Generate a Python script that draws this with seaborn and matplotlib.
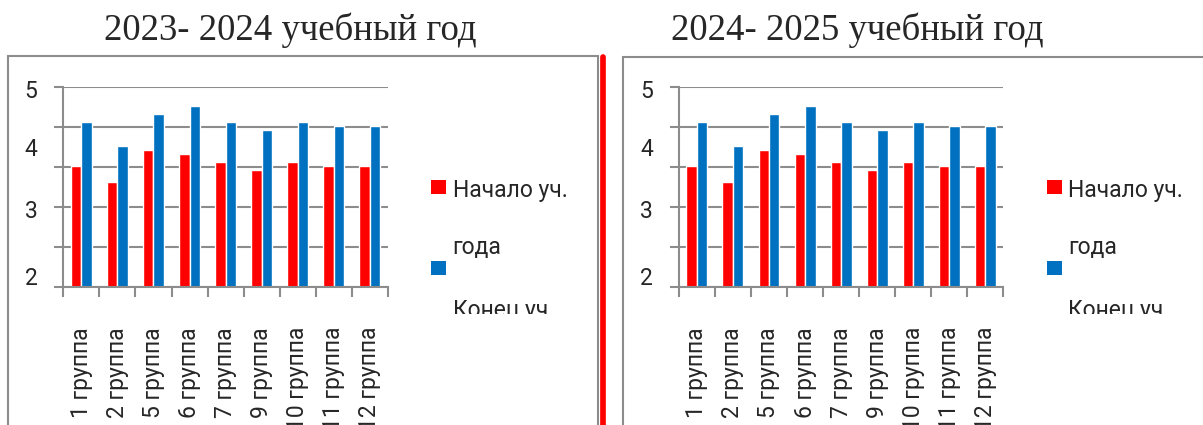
import numpy as np
import pandas as pd
import matplotlib
matplotlib.use('Agg')
import matplotlib.pyplot as plt
from matplotlib.patches import Rectangle
from matplotlib.lines import Line2D
from matplotlib.transforms import Bbox
import seaborn as sns

# data (axis 2..5)
groups = ['1 группа', '2 группа', '5 группа', '6 группа', '7 группа',
          '9 группа', '10 группа', '11 группа', '12 группа']
start_vals = [3.81, 3.57, 4.05, 3.99, 3.87, 3.75, 3.87, 3.81, 3.81]
end_vals = [4.47, 4.11, 4.59, 4.71, 4.47, 4.35, 4.47, 4.41, 4.41]
series = ['Начало уч. года', 'Конец уч. года']
titles = ['2023- 2024 учебный год', '2024- 2025 учебный год']
y_labels = ['5', '4', '3', '2']
y_label_pos = [4.97, 4.10, 3.17, 2.16]

df = pd.DataFrame({
    'group': groups * 2,
    'period': [series[0]] * len(groups) + [series[1]] * len(groups),
    'value': start_vals + end_vals,
})

sns.set_style('white')
plt.rcParams['font.family'] = ['Roboto', 'DejaVu Sans']

W, H = 1203, 425
fig = plt.figure(figsize=(W / 100, H / 100), dpi=100)
pal = {series[0]: '#ff0000', series[1]: '#0070c0'}
grey = '#8c8c8c'
fs = 16.5

def px(x, y):
    return x / W, 1 - y / H

for i, title in enumerate(titles):
    dx = i * 615.5
    x0, y0 = px(63.3 + dx, 286.7)
    ax = fig.add_axes([x0, y0, (388 - 63.3) / W, 200 / H])
    sns.barplot(data=df, x='group', y='value', hue='period', palette=pal,
                width=0.58, saturation=1, legend=False, ax=ax)
    ax.set_ylim(2, 5)
    ax.set_xlim(-0.5, 8.5)
    ax.set_xlabel('')
    ax.set_ylabel('')
    ax.set_axisbelow(True)
    for s in ['top', 'right']:
        ax.spines[s].set_visible(False)
    for s in ['left', 'bottom']:
        ax.spines[s].set_color(grey)
        ax.spines[s].set_linewidth(1.5)
    ax.set_yticks(np.linspace(2, 5, 6), labels=[''] * 6)
    ax.set_yticks(y_label_pos, labels=y_labels, minor=True)
    ax.yaxis.grid(True, which='major', color=grey, lw=1.5)
    ax.tick_params(axis='y', which='major', length=6.5, width=1.5, color=grey, left=True)
    ax.tick_params(axis='y', which='minor', length=0, pad=18.5, labelsize=fs)
    ax.set_xticks(range(len(groups)), labels=groups, rotation=90)
    ax.set_xticks(np.arange(-0.5, len(groups), 1), minor=True)
    ax.tick_params(axis='x', which='major', length=0, pad=29, labelsize=fs)
    ax.tick_params(axis='x', which='minor', length=7.2, width=1.5, color=grey, bottom=True)

    fig.text(*px(290.5 + i * 567, 30), title, ha='center', va='center',
             fontsize=26.5, family='Liberation Serif')

    # legend like Excel's, with wrapped and cut text
    for top, c in [(180, pal[series[0]]), (260.7, pal[series[1]])]:
        lx, ly = px(431 + dx, top + 14)
        fig.add_artist(Rectangle((lx, ly), 15 / W, 14 / H, color=c, lw=0))
    fig.text(*px(452.7 + dx, 196.5), 'Начало уч.', fontsize=fs, va='baseline')
    fig.text(*px(452.7 + dx, 254), 'года', fontsize=fs, va='baseline')
    t = fig.text(*px(452.7 + dx, 316.5), 'Конец уч.', fontsize=fs, va='baseline')
    t.set_clip_box(Bbox.from_extents(0, H - 314, W, H))
    t.set_clip_on(True)

# frames and red divider
fig.add_artist(Rectangle(px(8, 480), 590 / W, (480 - 56) / H, fill=False,
                         ec=grey, lw=1.5))
fig.add_artist(Rectangle(px(623, 480), 700 / W, (480 - 57) / H, fill=False,
                         ec=grey, lw=1.5))
fig.add_artist(Line2D([602.5 / W] * 2, [0, 1 - 57 / H], color='#ff0000', lw=4.1))

fig.savefig('out.png', dpi=100)
